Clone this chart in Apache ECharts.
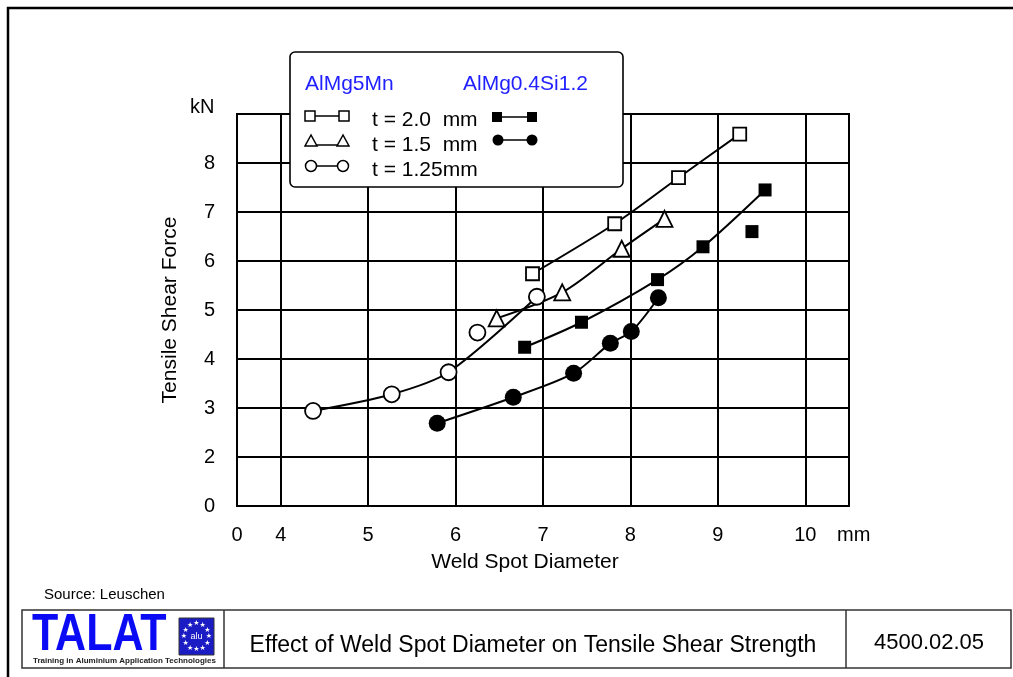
<!DOCTYPE html>
<html>
<head>
<meta charset="utf-8">
<title>Effect of Weld Spot Diameter on Tensile Shear Strength</title>
<script src="https://cdn.jsdelivr.net/npm/echarts@6/dist/echarts.min.js"></script>
<style>
  html, body { margin: 0; padding: 0; background: #fff; }
  #chart { width: 1013px; height: 677px; }
</style>
</head>
<body>
<div id="chart"></div>
<script>
// AlMg5Mn, t = 2.0 mm (open squares)
var sq20X = [6.88, 7.82, 8.55, 9.25];
var sq20Y = [5.74, 6.76, 7.70, 8.59];
// AlMg5Mn, t = 1.5 mm (open triangles)
var tri15X = [6.47, 7.22, 7.90, 8.39];
var tri15Y = [4.83, 5.36, 6.25, 6.86];
// AlMg5Mn, t = 1.25 mm (open circles) - one point sits off the curve
var circ125X = [4.37, 5.27, 5.92, 6.93];
var circ125Y = [2.94, 3.28, 3.73, 5.27];
var circ125OffX = [6.25];
var circ125OffY = [4.54];
// AlMg0.4Si1.2, t = 2.0 mm (filled squares) - one point off the curve
var fsq20X = [6.79, 7.44, 8.31, 8.83, 9.54];
var fsq20Y = [4.24, 4.75, 5.62, 6.29, 7.45];
var fsq20OffX = [9.39];
var fsq20OffY = [6.60];
// AlMg0.4Si1.2, t = 1.5 mm (filled circles)
var fc15X = [5.79, 6.66, 7.35, 7.77, 8.01, 8.32];
var fc15Y = [2.69, 3.22, 3.71, 4.32, 4.56, 5.25];

// both axes are broken: the first label reads "0"
var xGrid = [4, 5, 6, 7, 8, 9, 10];
var xLabelAt = [3.5, 4, 5, 6, 7, 8, 9, 10];
var xLabels = ['0', '4', '5', '6', '7', '8', '9', '10'];
var yGrid = [2, 3, 4, 5, 6, 7, 8];
var yLabelAt = [1, 2, 3, 4, 5, 6, 7, 8];
var yLabels = ['0', '2', '3', '4', '5', '6', '7', '8'];

var FONT = '"Liberation Sans", Arial, sans-serif';

function pts(xs, ys) {
    return xs.map(function (x, i) { return [x, ys[i]]; });
}

function curve(name, xs, ys, symbol, size, filled) {
    return {
        name: name,
        type: 'line',
        data: pts(xs, ys),
        smooth: 0.3,
        symbol: symbol,
        symbolSize: size,
        showSymbol: true,
        lineStyle: { color: '#000', width: 2 },
        itemStyle: {
            color: filled ? '#000' : '#fff',
            borderColor: '#000',
            borderWidth: filled ? 0 : 1.8
        },
        z: 3
    };
}

function dots(name, xs, ys, symbol, size, filled) {
    return {
        name: name,
        type: 'scatter',
        data: pts(xs, ys),
        symbol: symbol,
        symbolSize: size,
        itemStyle: {
            color: filled ? '#000' : '#fff',
            borderColor: '#000',
            borderWidth: filled ? 0 : 1.8,
            opacity: 1
        },
        z: 4
    };
}

// legend box drawn by hand, the layout is a small table
var blue = '#1f1fff';
var black = { fill: '#fff', stroke: '#000', lineWidth: 1.5 };
function seg(x1, x2, y) {
    return { type: 'line', shape: { x1: x1, y1: y, x2: x2, y2: y }, style: { stroke: '#000', lineWidth: 1.5 } };
}
function txt(x, y, s, size, color, extra) {
    var st = { text: s, fontSize: size, fontFamily: FONT, fill: color || '#000', verticalAlign: 'middle', align: 'left' };
    for (var k in extra) st[k] = extra[k];
    return { type: 'text', x: x, y: y, style: st };
}

var legendItems = [
    { type: 'rect', shape: { x: 290, y: 52, width: 333, height: 135, r: 5 }, style: { fill: '#fff', stroke: '#000', lineWidth: 1.6 } },
    txt(305, 84, 'AlMg5Mn', 21, blue),
    txt(463, 84, 'AlMg0.4Si1.2', 21, blue),
    // open squares
    seg(315, 339, 116),
    { type: 'rect', shape: { x: 305, y: 111, width: 10, height: 10 }, style: black },
    { type: 'rect', shape: { x: 339, y: 111, width: 10, height: 10 }, style: black },
    txt(372, 120, 't = 2.0  mm', 21),
    // open triangles
    seg(315, 339, 145),
    { type: 'polygon', shape: { points: [[311, 135], [305, 146], [317, 146]] }, style: black },
    { type: 'polygon', shape: { points: [[343, 135], [337, 146], [349, 146]] }, style: black },
    txt(372, 145, 't = 1.5  mm', 21),
    // open circles
    seg(316, 338, 166),
    { type: 'circle', shape: { cx: 311, cy: 166, r: 5.5 }, style: black },
    { type: 'circle', shape: { cx: 343, cy: 166, r: 5.5 }, style: black },
    txt(372, 170, 't = 1.25mm', 21),
    // filled squares
    seg(500, 530, 117),
    { type: 'rect', shape: { x: 492, y: 112, width: 10, height: 10 }, style: { fill: '#000' } },
    { type: 'rect', shape: { x: 527, y: 112, width: 10, height: 10 }, style: { fill: '#000' } },
    // filled circles
    seg(500, 530, 140),
    { type: 'circle', shape: { cx: 498, cy: 140, r: 5.5 }, style: { fill: '#000' } },
    { type: 'circle', shape: { cx: 532, cy: 140, r: 5.5 }, style: { fill: '#000' } }
];
// keep the box above the grid lines
legendItems.forEach(function (el) { el.z = 100; });

// TALAT logo flag stars
var flagItems = [
    { type: 'rect', shape: { x: 179, y: 618, width: 35, height: 37 }, style: { fill: '#1c1cc4', stroke: '#333', lineWidth: 1 } },
    txt(196.5, 637, 'alu', 9, '#fff', { align: 'center' })
];
for (var i = 0; i < 12; i++) {
    var a = i * Math.PI / 6;
    flagItems.push(txt(196.5 + 12.5 * Math.cos(a), 636.5 + 13 * Math.sin(a), '\u2605', 7, '#fff',
        { align: 'center', fontFamily: '"DejaVu Sans", sans-serif' }));
}

var myChart = echarts.init(document.getElementById('chart'));
var option = {
    animation: false,
    backgroundColor: '#fff',
    textStyle: { fontFamily: FONT },
    grid: {
        left: 237,
        top: 114,
        width: 612,
        height: 392,
        show: true,
        borderColor: '#000',
        borderWidth: 2,
        backgroundColor: 'transparent'
    },
    xAxis: {
        type: 'value',
        min: 3.5,
        max: 10.5,
        axisLine: { show: false },
        axisTick: { show: false, customValues: xGrid },
        splitLine: { show: true, lineStyle: { color: '#000', width: 2 } },
        axisLabel: {
            customValues: xLabelAt,
            formatter: function (v) { return xLabels[xLabelAt.indexOf(v)]; },
            fontSize: 20,
            color: '#000',
            margin: 19
        },
        name: 'Weld Spot Diameter',
        nameLocation: 'middle',
        nameGap: 46,
        nameTextStyle: { fontSize: 21, color: '#000', padding: [0, 36, 0, 0] }
    },
    yAxis: {
        type: 'value',
        min: 1,
        max: 9,
        axisLine: { show: false },
        axisTick: { show: false, customValues: yGrid },
        splitLine: { show: true, lineStyle: { color: '#000', width: 2 } },
        axisLabel: {
            customValues: yLabelAt,
            formatter: function (v) { return yLabels[yLabelAt.indexOf(v)]; },
            fontSize: 20,
            color: '#000',
            margin: 22
        },
        name: 'Tensile Shear Force',
        nameLocation: 'middle',
        nameGap: 56,
        nameTextStyle: { fontSize: 21, color: '#000' }
    },
    series: [
        curve('AlMg5Mn t=2.0', sq20X, sq20Y, 'rect', 13, false),
        curve('AlMg5Mn t=1.5', tri15X, tri15Y, 'triangle', 16, false),
        curve('AlMg5Mn t=1.25', circ125X, circ125Y, 'circle', 16, false),
        dots('AlMg5Mn t=1.25 off', circ125OffX, circ125OffY, 'circle', 16, false),
        curve('AlMg0.4Si1.2 t=2.0', fsq20X, fsq20Y, 'rect', 13, true),
        dots('AlMg0.4Si1.2 t=2.0 off', fsq20OffX, fsq20OffY, 'rect', 13, true),
        curve('AlMg0.4Si1.2 t=1.5', fc15X, fc15Y, 'circle', 17, true)
    ],
    graphic: [
        // outer frame
        { type: 'rect', z: 50, shape: { x: 8, y: 8, width: 1030, height: 700 }, style: { fill: 'none', stroke: '#000', lineWidth: 2.5 } },
        { type: 'group', children: legendItems },
        txt(190, 107, 'kN', 20),
        txt(837, 535, 'mm', 20),
        txt(44, 595, 'Source: Leuschen', 15),
        // footer table
        { type: 'rect', shape: { x: 22, y: 610, width: 989, height: 58 }, style: { fill: 'none', stroke: '#333', lineWidth: 1.5 } },
        { type: 'line', shape: { x1: 224, y1: 610, x2: 224, y2: 668 }, style: { stroke: '#333', lineWidth: 1.5 } },
        { type: 'line', shape: { x1: 846, y1: 610, x2: 846, y2: 668 }, style: { stroke: '#333', lineWidth: 1.5 } },
        txt(533, 646, 'Effect of Weld Spot Diameter on Tensile Shear Strength', 23, '#000', { align: 'center' }),
        txt(929, 643, '4500.02.05', 22, '#000', { align: 'center' }),
        {
            type: 'text', x: 32, y: 610, scaleY: 1.2,
            style: { text: 'TALAT', fontSize: 43, fontWeight: 'bold', fontFamily: FONT, fill: '#0a0af5', verticalAlign: 'top' }
        },
        txt(33, 661, 'Training in Aluminium Application Technologies', 8, '#222', { fontWeight: 'bold' }),
        { type: 'group', children: flagItems }
    ]
};
myChart.setOption(option);
</script>
</body>
</html>
